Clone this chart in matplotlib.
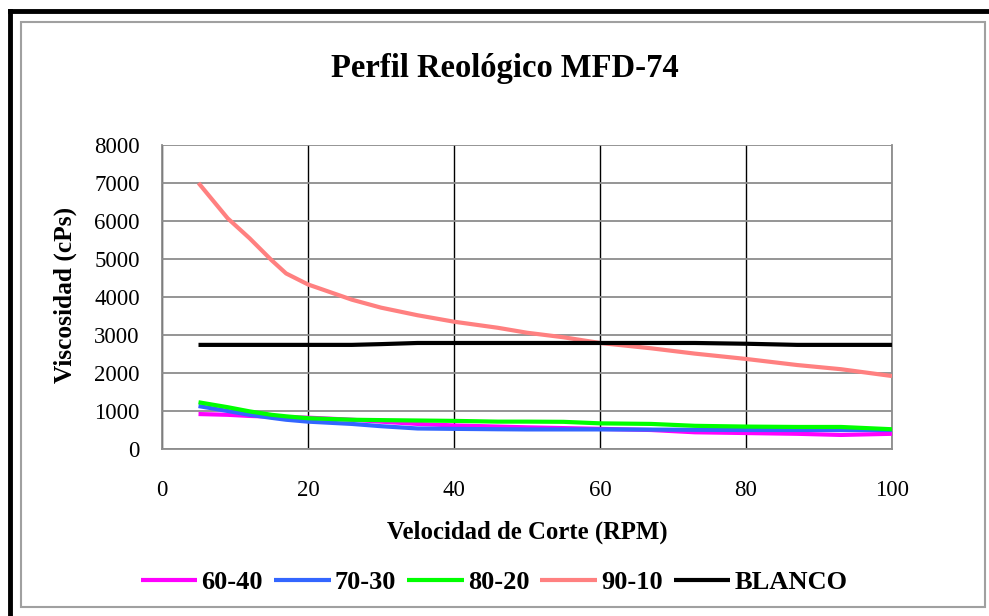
import numpy as np
import matplotlib
matplotlib.use("Agg")
import matplotlib.pyplot as plt
from matplotlib.lines import Line2D
from matplotlib.patches import Rectangle

# velocidad de corte (RPM)
rpm = [5, 9, 12, 15, 17, 20, 26, 30, 35, 40, 46, 50, 55, 60, 67, 73, 80, 87, 93, 100]

# viscosidades (cPs)
v_60_40 = [920, 900, 870, 850, 835, 825, 770, 720, 660, 620, 590, 570, 550, 530, 500, 440, 420, 400, 370, 400]
v_70_30 = [1130, 1000, 900, 820, 770, 720, 660, 600, 540, 530, 520, 515, 515, 515, 510, 505, 500, 500, 500, 500]
v_80_20 = [1230, 1100, 990, 900, 860, 810, 770, 760, 750, 740, 720, 720, 715, 675, 660, 610, 590, 580, 580, 520]
v_90_10 = [7000, 6070, 5545, 4970, 4620, 4330, 3930, 3720, 3520, 3350, 3190, 3060, 2940, 2790, 2650, 2510, 2370, 2210, 2100, 1920]
blanco = [2740, 2740, 2740, 2740, 2740, 2740, 2740, 2760, 2790, 2790, 2790, 2790, 2790, 2790, 2790, 2790, 2770, 2740, 2740, 2740]

series = ["60-40", "70-30", "80-20", "90-10", "BLANCO"]
colores = ["#FF00FF", "#3366FF", "#00FF00", "#FF8080", "#000000"]

plt.rcParams['font.family'] = ['Liberation Serif', 'DejaVu Serif']

fig = plt.figure(figsize=(9.89, 6.16), dpi=100)
ax = fig.add_axes([162/989, 1 - 449/616, 730/989, 304/616])

for datos, nombre, c in zip([v_60_40, v_70_30, v_80_20, v_90_10, blanco], series, colores):
    ax.plot(rpm, datos, color=c, lw=3, label=nombre, solid_capstyle='butt', zorder=3)

ax.set_xlim(0, 100)
ax.set_ylim(0, 8000)
ax.set_xticks(np.arange(0, 101, 20))
ax.set_yticks(np.arange(0, 8001, 1000))
ax.tick_params(axis='both', labelsize=16.5, length=0)
ax.tick_params(axis='x', pad=22)
ax.tick_params(axis='y', pad=16)

ax.yaxis.grid(True, color='#8C8C8C', lw=1.3)
ax.xaxis.grid(True, color='black', lw=1)
ax.set_axisbelow(True)
for s in ['left', 'bottom', 'right']:
    ax.spines[s].set_color('#8C8C8C')
    ax.spines[s].set_linewidth(1.3)
ax.spines['top'].set_visible(False)

ax.set_xlabel("Velocidad de Corte (RPM)", fontsize=17.8, fontweight='bold')
ax.xaxis.set_label_coords(0.5, (449 - 521) / 304)
ax.set_ylabel("Viscosidad (cPs)", fontsize=18.3, fontweight='bold', va='center')
ax.yaxis.set_label_coords((65 - 162) / 730, 0.508)

fig.text(505/989, 1 - 68/616, "Perfil Reológico MFD-74", ha='center', va='center',
         fontsize=23.5, fontweight='bold')

fig.legend(loc='center', bbox_to_anchor=(494/989, 1 - 582/616), ncol=5, frameon=False,
           prop={'size': 19, 'weight': 'bold'}, handlelength=2.15, handletextpad=0.15,
           columnspacing=0.42)

# marcos
fig.add_artist(Rectangle((21/989, 1 - 607/616), 964/989, 585/616, transform=fig.transFigure,
                         fill=False, edgecolor='#A0A0A0', lw=1.5))
fig.add_artist(Line2D([10/989, 10/989], [0, 1 - 11/616], transform=fig.transFigure,
                      color='black', lw=3.5))
fig.add_artist(Line2D([10/989, 1], [1 - 11/616, 1 - 11/616], transform=fig.transFigure,
                      color='black', lw=3.5))

fig.savefig("out.png", dpi=100)
